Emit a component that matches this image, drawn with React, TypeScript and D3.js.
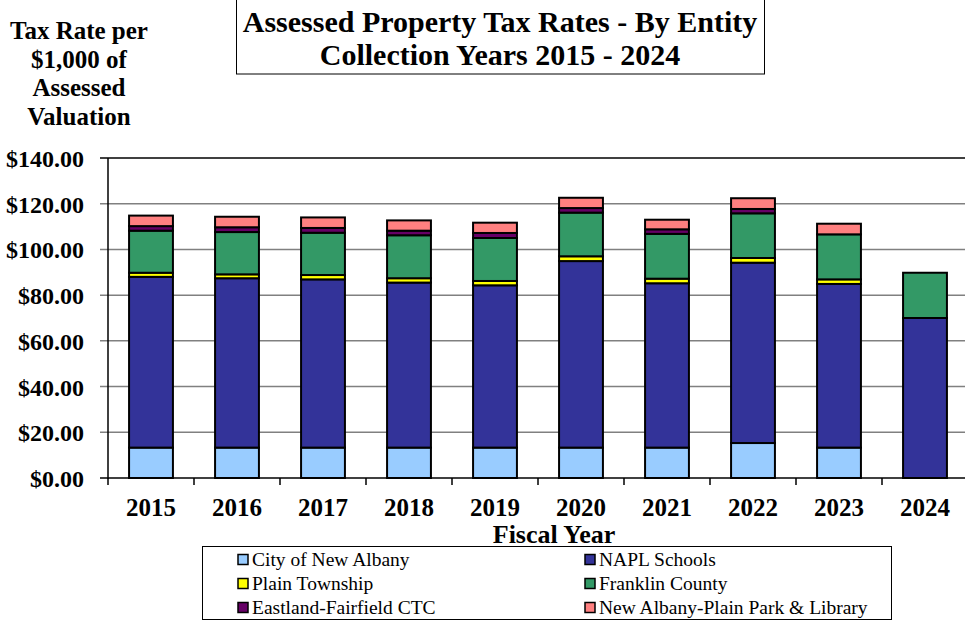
import React, { useEffect, useRef } from 'react';
import * as d3 from 'd3';

// chart data
const years = ['2015', '2016', '2017', '2018', '2019', '2020', '2021', '2022', '2023', '2024'];
const cityNewAlbany = [13.3, 13.3, 13.3, 13.3, 13.3, 13.3, 13.3, 15.3, 13.3, 0];
const naplSchools = [74.7, 74.1, 73.6, 72.2, 71.0, 81.6, 71.9, 78.9, 71.6, 70.0];
const plainTownship = [1.8, 1.7, 1.9, 1.9, 1.9, 2.1, 2.0, 2.05, 2.0, 0];
const franklinCounty = [18.4, 18.5, 18.5, 18.8, 18.8, 19.1, 19.6, 19.55, 19.7, 19.8];
const eastlandFairfield = [2.0, 2.1, 2.1, 2.0, 2.2, 2.0, 2.0, 1.9, 0, 0];
const parkLibrary = [4.6, 4.6, 4.6, 4.5, 4.5, 4.5, 4.2, 4.7, 4.65, 0];
const yTicks = [0, 20, 40, 60, 80, 100, 120, 140];

const seriesNames = [
  'City of New Albany',
  'NAPL Schools',
  'Plain Township',
  'Franklin County',
  'Eastland-Fairfield CTC',
  'New Albany-Plain Park & Library',
];
const seriesValues = [cityNewAlbany, naplSchools, plainTownship, franklinCounty, eastlandFairfield, parkLibrary];
const colors = ['#99ccff', '#333399', '#ffff00', '#339966', '#660066', '#ff8080'];

const FONT = '"Liberation Serif", "Times New Roman", serif';

export default function App() {
  const svgRef = useRef<SVGSVGElement | null>(null);

  useEffect(() => {
    const svg = d3.select(svgRef.current);
    svg.selectAll('*').remove();

    const left = 108, right = 968, top = 158, bottom = 478;

    const x = d3.scaleBand().domain(years).range([left, right]).paddingInner(0.49).paddingOuter(0.245);
    const band = d3.scaleBand().domain(years).range([left, right]);
    const y = d3.scaleLinear().domain([0, 140]).range([bottom, top]);

    // stacked table
    const rows = years.map((yr, i) => {
      const r: any = { year: yr };
      seriesNames.forEach((n, k) => (r[n] = seriesValues[k][i]));
      return r;
    });
    const stacked = d3.stack().keys(seriesNames)(rows);

    // gridlines
    svg.append('g')
      .selectAll('line')
      .data(yTicks)
      .join('line')
      .attr('x1', left - 8)
      .attr('x2', right)
      .attr('y1', (d) => y(d))
      .attr('y2', (d) => y(d))
      .attr('stroke', (d) => (d === 0 || d === 140 ? '#000' : '#808080'))
      .attr('stroke-width', 1.5);

    // y axis line
    svg.append('line')
      .attr('x1', left).attr('x2', left)
      .attr('y1', top).attr('y2', bottom + 1)
      .attr('stroke', '#000').attr('stroke-width', 1.5);

    // x ticks
    svg.append('g')
      .selectAll('line')
      .data(years)
      .join('line')
      .attr('x1', (d) => (band(d) as number))
      .attr('x2', (d) => (band(d) as number))
      .attr('y1', bottom)
      .attr('y2', bottom + 7)
      .attr('stroke', '#000').attr('stroke-width', 1.5);

    // y tick labels
    svg.append('g')
      .selectAll('text')
      .data(yTicks)
      .join('text')
      .attr('x', 84)
      .attr('y', (d) => y(d) + 9)
      .attr('text-anchor', 'end')
      .attr('font-family', FONT)
      .attr('font-weight', 'bold')
      .attr('font-size', 24)
      .text((d) => '$' + d3.format('.2f')(d));

    // year labels
    svg.append('g')
      .selectAll('text')
      .data(years)
      .join('text')
      .attr('x', (d) => (band(d) as number) + band.bandwidth() / 2)
      .attr('y', 516)
      .attr('text-anchor', 'middle')
      .attr('font-family', FONT)
      .attr('font-weight', 'bold')
      .attr('font-size', 25)
      .text((d) => d);

    // bars
    svg.append('g')
      .selectAll('g')
      .data(stacked)
      .join('g')
      .attr('fill', (d, i) => colors[i])
      .selectAll('rect')
      .data((d) => d.filter((p) => p[1] - p[0] > 0))
      .join('rect')
      .attr('x', (d: any) => x(d.data.year) as number)
      .attr('width', x.bandwidth())
      .attr('y', (d) => y(d[1]))
      .attr('height', (d) => y(d[0]) - y(d[1]))
      .attr('stroke', '#000')
      .attr('stroke-width', 2);

    // x axis title
    svg.append('text')
      .attr('x', 554).attr('y', 543)
      .attr('text-anchor', 'middle')
      .attr('font-family', FONT).attr('font-weight', 'bold').attr('font-size', 26)
      .text('Fiscal Year');

    // y axis title
    const yTitle = ['Tax Rate per', '$1,000 of', 'Assessed', 'Valuation'];
    svg.append('g')
      .selectAll('text')
      .data(yTitle)
      .join('text')
      .attr('x', 79)
      .attr('y', (d, i) => 39 + i * 28.6)
      .attr('text-anchor', 'middle')
      .attr('font-family', FONT).attr('font-weight', 'bold').attr('font-size', 25)
      .text((d) => d);

    // title box
    svg.append('rect')
      .attr('x', 236.5).attr('y', -1)
      .attr('width', 528).attr('height', 75)
      .attr('fill', '#fff').attr('stroke', '#000').attr('stroke-width', 1);
    const titleLines = ['Assessed Property Tax Rates - By Entity', 'Collection Years 2015 - 2024'];
    svg.append('g')
      .selectAll('text')
      .data(titleLines)
      .join('text')
      .attr('x', 500)
      .attr('y', (d, i) => 32 + i * 33)
      .attr('text-anchor', 'middle')
      .attr('font-family', FONT).attr('font-weight', 'bold').attr('font-size', 30)
      .text((d) => d);

    // legend
    const lg = svg.append('g');
    lg.append('rect')
      .attr('x', 202.5).attr('y', 546.5)
      .attr('width', 689).attr('height', 73)
      .attr('fill', '#fff').attr('stroke', '#000').attr('stroke-width', 1);
    const items = lg.selectAll('g')
      .data(seriesNames)
      .join('g')
      .attr('transform', (d, i) => `translate(${i % 2 === 0 ? 238 : 585},${559.5 + Math.floor(i / 2) * 24})`);
    items.append('rect')
      .attr('x', 0).attr('y', -5)
      .attr('width', 10).attr('height', 10)
      .attr('fill', (d, i) => colors[i])
      .attr('stroke', '#000').attr('stroke-width', 1.5);
    items.append('text')
      .attr('x', 14).attr('y', 6.5)
      .attr('font-family', FONT).attr('font-size', 19.5)
      .text((d) => d);
  }, []);

  return (
    <svg
      ref={svgRef}
      width={965}
      height={621}
      style={{ position: 'absolute', left: 0, top: 0, background: '#fff' }}
    />
  );
}
